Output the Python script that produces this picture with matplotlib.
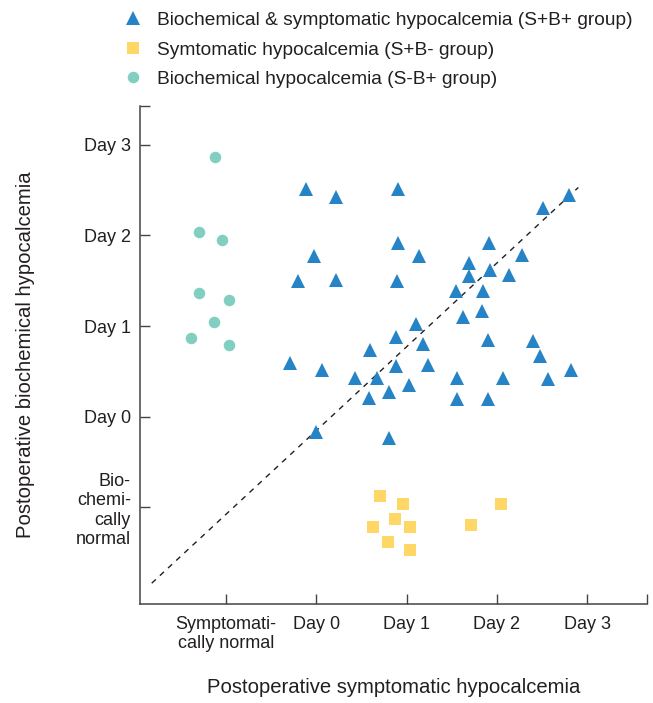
import numpy as np
import matplotlib
matplotlib.use('Agg')
import matplotlib.pyplot as plt
from matplotlib.lines import Line2D

plt.rcParams['font.family'] = ['Liberation Sans', 'DejaVu Sans']

# S+B+ group (triangles): x = symptomatic day, y = biochemical day
sb_x = [-0.11, 0.22, 0.90, 2.80, 2.51, 0.90, 1.91, -0.03, 1.14, 2.28, 1.69, 1.92,
        1.69, 2.13, -0.20, 0.22, 0.89, 1.55, 1.84, 1.83, 1.62, 1.10, 0.88, 1.18,
        1.90, 2.40, 0.59, 2.48, -0.29, 0.06, 0.88, 1.24, 0.43, 0.67, 1.56, 2.07,
        2.57, 2.82, 1.03, 0.81, 0.58, 1.56, 1.90, 0.00, 0.81]
sb_y = [2.51, 2.43, 2.51, 2.45, 2.30, 1.92, 1.92, 1.77, 1.77, 1.78, 1.70, 1.62,
        1.55, 1.56, 1.50, 1.51, 1.50, 1.39, 1.39, 1.17, 1.10, 1.02, 0.88, 0.80,
        0.85, 0.84, 0.73, 0.67, 0.59, 0.51, 0.56, 0.57, 0.43, 0.43, 0.43, 0.43,
        0.42, 0.51, 0.35, 0.27, 0.20, 0.19, 0.19, -0.17, -0.24]

# S+B- group (squares)
s_x = [0.71, 0.96, 2.04, 0.87, 0.63, 1.04, 1.71, 0.79, 1.04]
s_y = [-0.88, -0.97, -0.97, -1.13, -1.22, -1.22, -1.20, -1.38, -1.47]

# S-B+ group (circles)
b_x = [-1.12, -1.30, -1.04, -1.30, -0.96, -1.13, -1.39, -0.96]
b_y = [2.87, 2.04, 1.95, 1.37, 1.29, 1.04, 0.87, 0.79]

x_ticks = [-1, 0, 1, 2, 3]
x_labels = ['Symptomati-\ncally normal', 'Day 0', 'Day 1', 'Day 2', 'Day 3']
y_ticks = [-1, 0, 1, 2, 3]
y_labels = ['Bio-\nchemi-\ncally\nnormal', 'Day 0', 'Day 1', 'Day 2', 'Day 3']

blue = '#2683c6'
yellow = '#fed766'
teal = '#80cfc0'
dark = '#231f20'

fig = plt.figure(figsize=(6.53, 7.03), dpi=100)
ax = fig.add_axes([140 / 653, 1 - 604 / 703, 507 / 653, 498 / 703])

xlim = (-1.95, 3.66)
ylim = (-2.07, 3.43)

ax.plot([-1.82, 2.90], [-1.84, 2.53], ls=(0, (4, 4)), color=dark, lw=1.0, zorder=1)
ax.plot(sb_x, sb_y, ls='none', marker='^', ms=10.5, mew=0, color=blue, zorder=3)
ax.plot(s_x, s_y, ls='none', marker='s', ms=8.6, mew=0, color=yellow, zorder=3)
ax.plot(b_x, b_y, ls='none', marker='o', ms=8.3, mew=0, color=teal, zorder=3)

ax.set_xlim(*xlim)
ax.set_ylim(*ylim)
ax.set_xticks(x_ticks + [xlim[1]])
ax.set_xticklabels(x_labels + [''])
ax.set_yticks(y_ticks + [ylim[1]])
ax.set_yticklabels(y_labels + [''])
for t in ax.get_yticklabels():
    t.set_multialignment('right')

for s in ['top', 'right']:
    ax.spines[s].set_visible(False)
for s in ['left', 'bottom']:
    ax.spines[s].set_color('#444444')
    ax.spines[s].set_linewidth(1.1)
ax.tick_params(direction='in', length=7, width=1.0, color='#444444',
               labelsize=13, labelcolor=dark)
ax.tick_params(axis='x', pad=8.5)
ax.tick_params(axis='y', pad=6.5)

ax.set_xlabel('Postoperative symptomatic hypocalcemia', fontsize=14.6, color=dark)
ax.set_ylabel('Postoperative biochemical hypocalcemia', fontsize=14.6, color=dark)
ax.xaxis.set_label_coords(0.5, -0.148)
ax.yaxis.set_label_coords(-0.208, 0.5)

handles = [
    Line2D([], [], ls='none', marker='^', ms=10.5, mew=0, color=blue),
    Line2D([], [], ls='none', marker='s', ms=8.6, mew=0, color=yellow),
    Line2D([], [], ls='none', marker='o', ms=8.3, mew=0, color=teal),
]
names = ['Biochemical & symptomatic hypocalcemia (S+B+ group)',
         'Symtomatic hypocalcemia (S+B- group)',
         'Biochemical hypocalcemia (S-B+ group)']
leg = fig.legend(handles, names, loc='upper left', bbox_to_anchor=(116 / 653, 1 - 4 / 703),
                 frameon=False, fontsize=13.8, handlelength=1.0, handletextpad=0.75,
                 labelspacing=0.63, borderaxespad=0)
for t in leg.get_texts():
    t.set_color(dark)

fig.savefig('out.png', dpi=100)
